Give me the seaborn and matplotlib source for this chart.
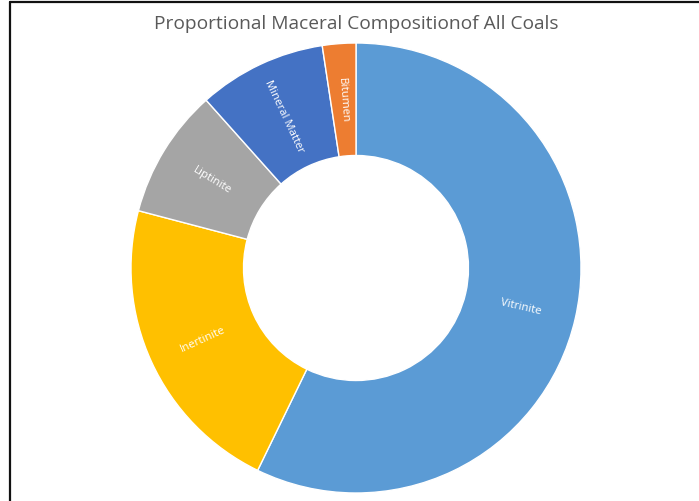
import numpy as np
import matplotlib
matplotlib.use("Agg")
import matplotlib.pyplot as plt
from matplotlib.lines import Line2D
import seaborn as sns

# Maceral shares (%) for all coals, drawn clockwise from 12 o'clock
macerals = ["Vitrinite", "Inertinite", "Liptinite", "Mineral Matter", "Bitumen"]
shares = [57.2, 21.9, 9.3, 9.2, 2.4]
colors = ["#5B9BD5", "#FFC000", "#A5A5A5", "#4472C4", "#ED7D31"]
title = "Proportional Maceral Compositionof All Coals"

sns.set_theme(style="white")
plt.rcParams["font.family"] = ["Open Sans", "DejaVu Sans"]

W, H = 699, 502
fig = plt.figure(figsize=(W / 100, H / 100), dpi=100)
fig.patch.set_facecolor("white")

# square axes holding the ring: centre (356, 269) px from top-left, radius 225 px
cx, cy, R = 356, 269, 225
ax = fig.add_axes([(cx - R) / W, (H - cy - R) / H, 2 * R / W, 2 * R / H])

palette = sns.color_palette(colors)
hole = 0.5
wedges, _ = ax.pie(
    shares,
    colors=palette,
    startangle=90,
    counterclock=False,
    radius=1.0,
    wedgeprops=dict(width=1 - hole, edgecolor="white", linewidth=1.0),
)
ax.set_xlim(-1, 1)
ax.set_ylim(-1, 1)
ax.set_aspect("equal")
ax.axis("off")

# radial category labels at the middle of the ring
r_lab = (1 + hole) / 2
for w, name in zip(wedges, macerals):
    mid = np.deg2rad((w.theta1 + w.theta2) / 2)
    x, y = r_lab * np.cos(mid), r_lab * np.sin(mid)
    rot = np.rad2deg(mid)
    rot = (rot + 180) % 360 - 180
    if rot > 90:
        rot -= 180
    elif rot < -90:
        rot += 180
    ax.text(x, y, name, rotation=rot, rotation_mode="anchor",
            ha="center", va="center", color="white", fontsize=8.2)

fig.text(cx / W, 1 - 24 / H, title, ha="center", va="center",
         fontsize=13.8, color="#595959")

# frame lines along the top and left edges
fig.add_artist(Line2D([9.5 / W, 1], [1 - 3 / H, 1 - 3 / H], color="#111111",
                      linewidth=1.6, transform=fig.transFigure))
fig.add_artist(Line2D([10 / W, 10 / W], [0, 1 - 3 / H], color="#111111",
                      linewidth=1.6, transform=fig.transFigure))

fig.savefig("out.png", dpi=100, facecolor="white")
